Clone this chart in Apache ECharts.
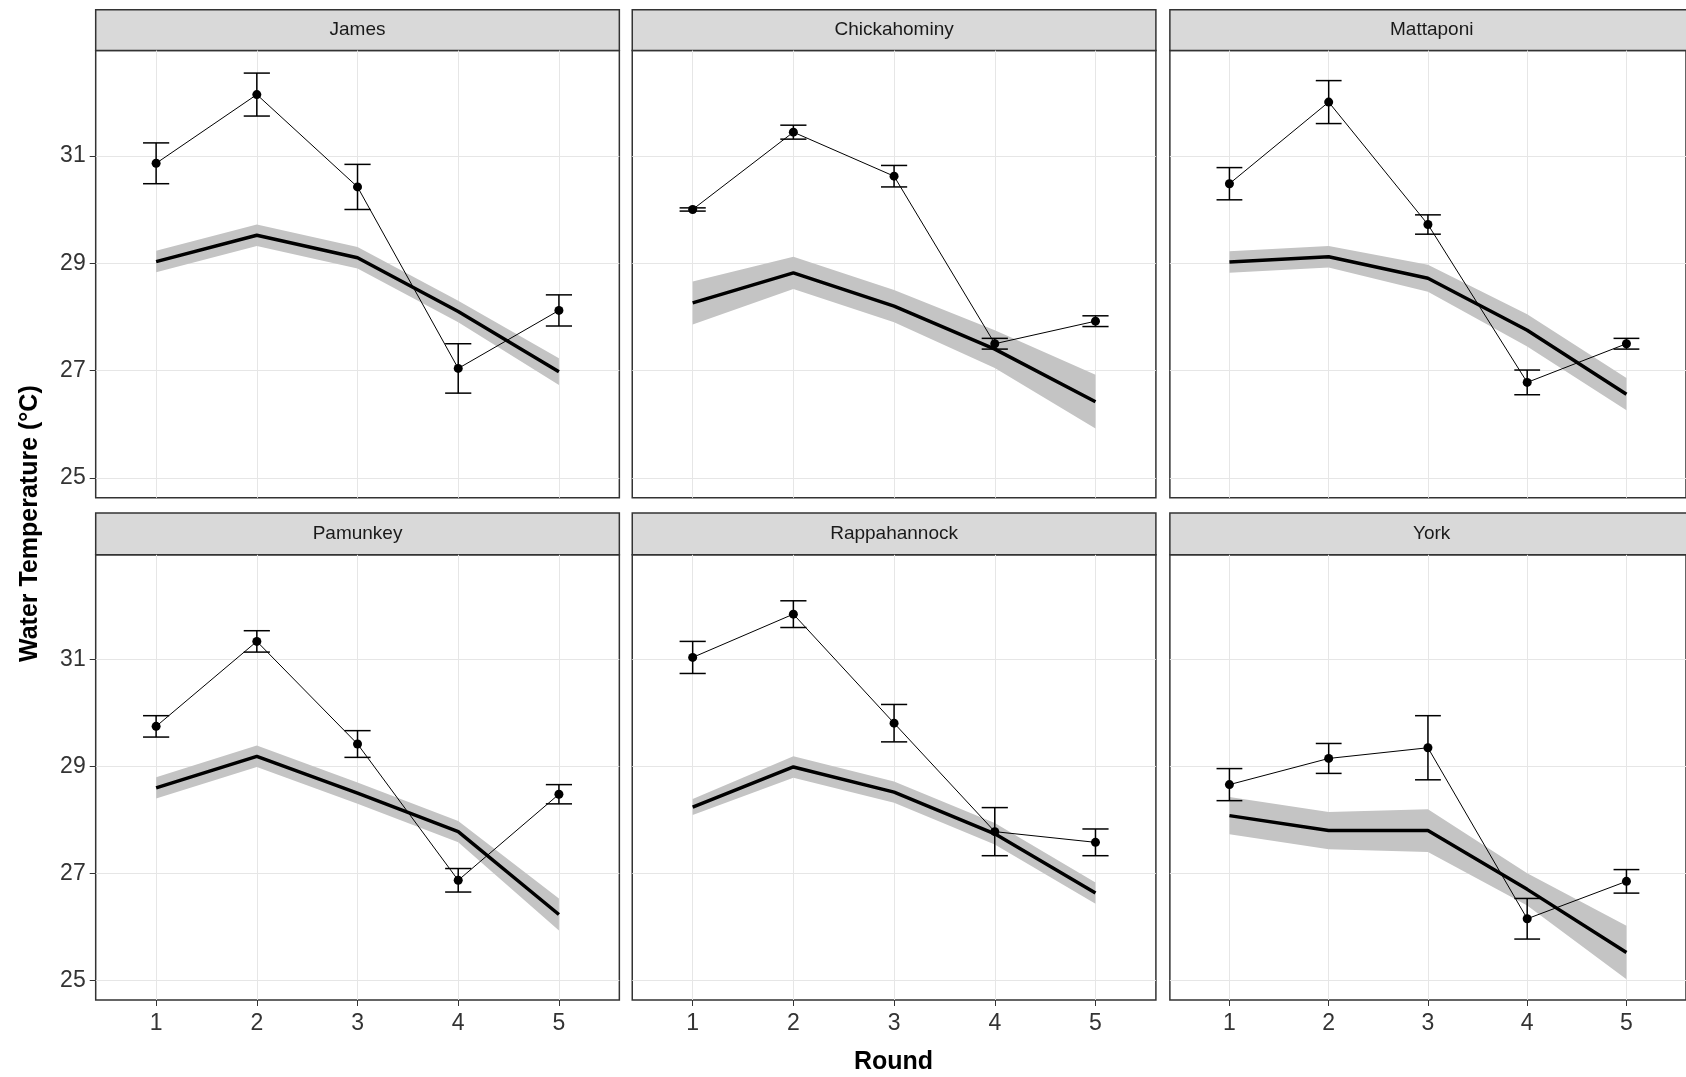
<!DOCTYPE html>
<html>
<head>
<meta charset="UTF-8">
<script src="https://cdn.jsdelivr.net/npm/echarts@6/dist/echarts.min.js"></script>
<style>
  html, body { margin: 0; padding: 0; background: #fff; }
  #chart { width: 1686px; height: 1077px; }
</style>
</head>
<body>
<div id="chart"></div>
<script>
// panel names
var rivers = ['James', 'Chickahominy', 'Mattaponi', 'Pamunkey', 'Rappahannock', 'York'];
var rounds = [1, 2, 3, 4, 5];
var yTicks = [25, 27, 29, 31];

// observed means and error half-widths
var jamesMean = [30.86, 32.14, 30.42, 27.04, 28.12];
var jamesErr = [0.38, 0.40, 0.42, 0.46, 0.29];
var chickMean = [30.0, 31.44, 30.62, 27.5, 27.92];
var chickErr = [0.03, 0.13, 0.2, 0.1, 0.1];
var mattMean = [30.48, 32.0, 29.72, 26.78, 27.5];
var mattErr = [0.3, 0.4, 0.18, 0.23, 0.1];
var pamMean = [29.75, 31.34, 29.42, 26.87, 28.48];
var pamErr = [0.2, 0.2, 0.25, 0.22, 0.18];
var rappMean = [31.04, 31.85, 29.81, 27.78, 27.58];
var rappErr = [0.3, 0.25, 0.35, 0.45, 0.25];
var yorkMean = [28.66, 29.15, 29.35, 26.15, 26.85];
var yorkErr = [0.3, 0.28, 0.6, 0.38, 0.22];

// model fit line and band half-width
var jamesFit = [29.03, 29.52, 29.1, 28.1, 26.98];
var jamesBand = [0.2, 0.2, 0.2, 0.2, 0.25];
var chickFit = [28.26, 28.82, 28.2, 27.4, 26.42];
var chickBand = [0.4, 0.3, 0.3, 0.35, 0.5];
var mattFit = [29.02, 29.12, 28.72, 27.75, 26.56];
var mattBand = [0.2, 0.2, 0.25, 0.3, 0.3];
var pamFit = [28.6, 29.19, 28.5, 27.78, 26.23];
var pamBand = [0.2, 0.2, 0.2, 0.2, 0.3];
var rappFit = [28.24, 28.99, 28.52, 27.74, 26.63];
var rappBand = [0.15, 0.2, 0.2, 0.2, 0.2];
var yorkFit = [28.08, 27.8, 27.8, 26.7, 25.52];
var yorkBand = [0.35, 0.35, 0.4, 0.3, 0.5];

var means = [jamesMean, chickMean, mattMean, pamMean, rappMean, yorkMean];
var errs = [jamesErr, chickErr, mattErr, pamErr, rappErr, yorkErr];
var fits = [jamesFit, chickFit, mattFit, pamFit, rappFit, yorkFit];
var bands = [jamesBand, chickBand, mattBand, pamBand, rappBand, yorkBand];

var s = 1686 / 1568;
var colLeft = [89, 588, 1088].map(function (v) { return v * s; });
var panelW = 487 * s;
var rowTop = [47 * s, 516 * s];
var panelH = [416 * s, 414 * s];
var stripTop = [9 * s, 477 * s];

var grids = [], xAxes = [], yAxes = [], series = [], graphics = [];

rivers.forEach(function (name, i) {
  var r = Math.floor(i / 3), c = i % 3;
  grids.push({
    left: colLeft[c], top: rowTop[r], width: panelW, height: panelH[r],
    show: true, borderColor: '#333', borderWidth: 1.5, backgroundColor: 'transparent'
  });
  xAxes.push({
    gridIndex: i, type: 'value', min: 0.4, max: 5.6,
    axisLine: { show: false },
    axisTick: { show: r === 1, length: 6, lineStyle: { color: '#333' }, customValues: rounds },
    axisLabel: {
      show: r === 1, fontSize: 23, color: '#333', margin: 12, fontFamily: 'Liberation Sans',
      customValues: rounds
    },
    splitLine: { lineStyle: { color: '#e6e6e6' } }
  });
  yAxes.push({
    gridIndex: i, type: 'value', min: 24.63, max: 32.96,
    axisLine: { show: false },
    axisTick: { show: c === 0, length: 6, lineStyle: { color: '#333' }, customValues: yTicks },
    axisLabel: {
      show: c === 0, fontSize: 23, color: '#333', margin: 10, fontFamily: 'Liberation Sans',
      customValues: yTicks
    },
    splitLine: { lineStyle: { color: '#e6e6e6' } }
  });
  // strip
  graphics.push({
    type: 'rect', shape: { x: colLeft[c], y: stripTop[r], width: panelW, height: rowTop[r] - stripTop[r] },
    style: { fill: '#d9d9d9', stroke: '#333', lineWidth: 1.5 }
  });
  graphics.push({
    type: 'text', x: colLeft[c] + panelW / 2, y: (stripTop[r] + rowTop[r]) / 2,
    style: { text: name, fill: '#1a1a1a', font: '19px "Liberation Sans"', align: 'center', verticalAlign: 'middle' }
  });

  // confidence band polygon
  var bandData = rounds.map(function (x, k) { return [x, fits[i][k] - bands[i][k], fits[i][k] + bands[i][k]]; });
  series.push({
    type: 'custom', xAxisIndex: i, yAxisIndex: i, data: bandData, silent: true, z: 1,
    encode: { x: 0, y: [1, 2] },
    renderItem: function (params, api) {
      if (params.dataIndex !== 0) return;
      var up = [], dn = [];
      bandData.forEach(function (d) {
        up.push(api.coord([d[0], d[2]]));
        dn.unshift(api.coord([d[0], d[1]]));
      });
      return { type: 'polygon', shape: { points: up.concat(dn) }, style: { fill: '#c4c4c4' } };
    }
  });
  series.push({
    type: 'line', xAxisIndex: i, yAxisIndex: i,
    data: rounds.map(function (x, k) { return [x, fits[i][k]]; }),
    symbol: 'none', lineStyle: { color: '#000', width: 3.5 }, z: 2
  });
  series.push({
    type: 'line', xAxisIndex: i, yAxisIndex: i,
    data: rounds.map(function (x, k) { return [x, means[i][k]]; }),
    symbol: 'circle', symbolSize: 9, itemStyle: { color: '#000' },
    lineStyle: { color: '#000', width: 1 }, z: 4
  });
  series.push({
    type: 'custom', xAxisIndex: i, yAxisIndex: i,
    data: rounds.map(function (x, k) { return [x, means[i][k] - errs[i][k], means[i][k] + errs[i][k]]; }),
    encode: { x: 0, y: [1, 2] }, z: 3,
    renderItem: function (params, api) {
      var x = api.value(0);
      var a = api.coord([x, api.value(1)]);
      var b = api.coord([x, api.value(2)]);
      var hw = api.size([0.13, 0])[0];
      var st = { stroke: '#000', lineWidth: 1.5 };
      return {
        type: 'group', children: [
          { type: 'line', shape: { x1: a[0], y1: a[1], x2: b[0], y2: b[1] }, style: st },
          { type: 'line', shape: { x1: a[0] - hw, y1: a[1], x2: a[0] + hw, y2: a[1] }, style: st },
          { type: 'line', shape: { x1: b[0] - hw, y1: b[1], x2: b[0] + hw, y2: b[1] }, style: st }
        ]
      };
    }
  });
});

graphics.push({
  type: 'text', x: 30, y: 487 * s, rotation: Math.PI / 2,
  style: { text: 'Water Temperature (°C)', fill: '#000', font: 'bold 25px "Liberation Sans"', align: 'center', verticalAlign: 'middle' }
});
graphics.push({
  type: 'text', x: 831 * s, y: 988 * s,
  style: { text: 'Round', fill: '#000', font: 'bold 25px "Liberation Sans"', align: 'center', verticalAlign: 'middle' }
});

var chart = echarts.init(document.getElementById('chart'));
chart.setOption({
  animation: false,
  grid: grids, xAxis: xAxes, yAxis: yAxes, series: series,
  graphic: graphics
});
</script>
</body>
</html>
